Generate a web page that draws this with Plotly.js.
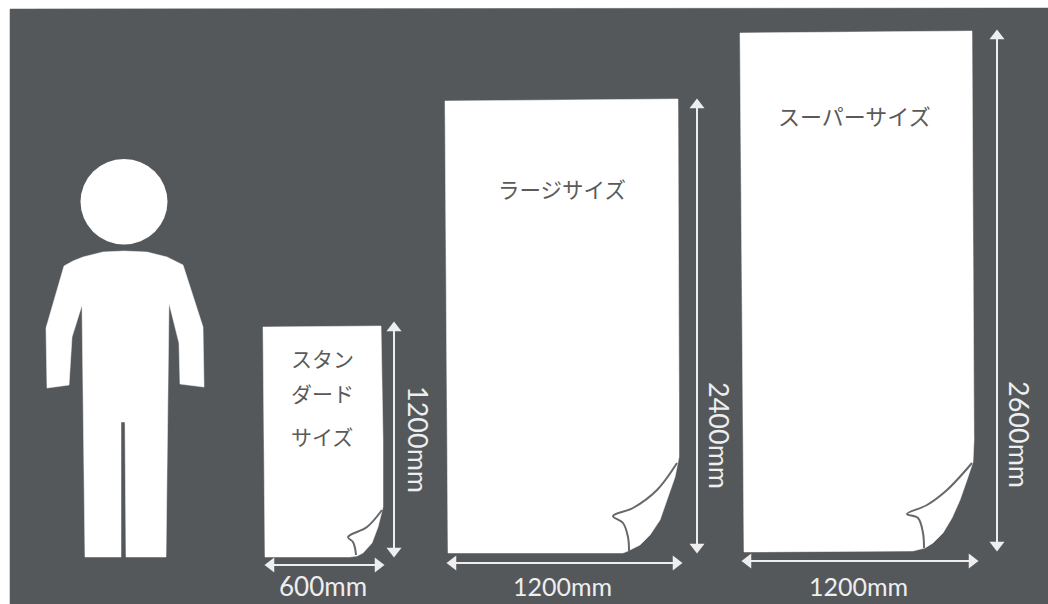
<!DOCTYPE html>
<html><head><meta charset="utf-8">
<script src="https://cdn.plot.ly/plotly-3.0.1.min.js"></script>
<style>html,body{margin:0;padding:0;background:#fff}</style></head>
<body><div id="chart" style="width:1048px;height:604px"></div>
<script>
const panelX=[10,1048,1048,10,10];
const panelY=[9,8,604,604,9];
const bodyX=[64,73,83,103,124,147,167,183,203,204,180,179,169,166,126,125,121,121,85,82,72,69,47,46,64];
const bodyY=[266,261,257,252,251,252,257,265,327,387,384,343,303,557,557,422,422,557,557,305,337,385,388,328,266];
const standardX=[263,381,383,383,378,372,363,357,350,265,263];
const standardY=[327,326,440,507,527,543,553,556,557,557,327];
const largeX=[445,678,679,679,675,668,660,650,640,628,623,448,445];
const largeY=[101,99,400,457,477,498,520,535,545,551,553,553,101];
const superX=[740,972,974,973,967,960,952,943,933,925,913,744,740];
const superY=[33,31,440,462,480,500,518,533,543,548,551,552,33];
const fold1X=[382,367,348,353,355,356];
const fold1Y=[510,527,537,542,548,555];
const fold2X=[677,657,633,613,623,628,629];
const fold2Y=[463,490,508,516,523,537,551];
const fold3X=[972,947,927,907,918,923,924];
const fold3Y=[463,490,505,514,518,533,548];
const vArrowX=[394,697,997];
const vArrowTop=[321,98,29];
const vArrowBottom=[558,554,552];
const hArrowY=[565,563,561];
const hArrowLeft=[264,446,741];
const hArrowRight=[385,683,979];
const labels=[
 {t:"スタン",x:322,y:358},{t:"ダード",x:322,y:393},{t:"サイズ",x:322,y:436},
 {t:"ラージサイズ",x:562,y:188},{t:"スーパーサイズ",x:854,y:115}];
const dimsH=[{t:"600mm",x:323,y:586},{t:"1200mm",x:562,y:586},{t:"1200mm",x:858,y:586}];
const dimsV=[{t:"1200mm",x:419,y:439},{t:"2400mm",x:720,y:435},{t:"2600mm",x:1020,y:434}];

const white='#ffffff', gray='#55585b', fold='#66686a', ink='#eeeeee';
const poly=(x,y,c)=>({x,y,type:'scatter',mode:'lines',fill:'toself',fillcolor:c,line:{color:c,width:0.5},hoverinfo:'skip'});
const curve=(x,y)=>({x,y,type:'scatter',mode:'lines',line:{color:fold,width:2,shape:'spline'},hoverinfo:'skip'});
const data=[
 poly(panelX,panelY,gray),poly(bodyX,bodyY,white),
 poly(standardX,standardY,white),poly(largeX,largeY,white),poly(superX,superY,white),
 curve(fold1X,fold1Y),curve(fold2X,fold2Y),curve(fold3X,fold3Y)];
vArrowX.forEach((x,i)=>{
 data.push({x:[x,x],y:[vArrowTop[i]+6,vArrowBottom[i]-6],type:'scatter',mode:'lines',line:{color:ink,width:2},hoverinfo:'skip'});
 data.push({x:[x],y:[vArrowTop[i]+7],type:'scatter',mode:'markers',marker:{symbol:'triangle-up',size:13,color:ink},hoverinfo:'skip'});
 data.push({x:[x],y:[vArrowBottom[i]-7],type:'scatter',mode:'markers',marker:{symbol:'triangle-down',size:13,color:ink},hoverinfo:'skip'});
});
hArrowY.forEach((y,i)=>{
 data.push({x:[hArrowLeft[i]+6,hArrowRight[i]-6],y:[y,y],type:'scatter',mode:'lines',line:{color:ink,width:2},hoverinfo:'skip'});
 data.push({x:[hArrowLeft[i]+7],y:[y],type:'scatter',mode:'markers',marker:{symbol:'triangle-left',size:13,color:ink},hoverinfo:'skip'});
 data.push({x:[hArrowRight[i]-7],y:[y],type:'scatter',mode:'markers',marker:{symbol:'triangle-right',size:13,color:ink},hoverinfo:'skip'});
});
const latin='Lato, "Open Sans", sans-serif';
const ann=(o,font,angle)=>({x:o.x,y:o.y,xref:'x',yref:'y',text:o.t,showarrow:false,textangle:angle,font,xanchor:'center',yanchor:'middle'});
const jp=s=>({family:'"Noto Sans CJK JP"',size:s,color:'#5a5a5a'});
const annotations=[
 ...labels.slice(0,3).map(o=>ann(o,jp(21),0)),
 ann(labels[3],jp(21.5),0),ann(labels[4],jp(22),0),
 ...dimsH.map(o=>ann(o,{family:latin,size:o.t==="600mm"?26:25,color:ink},0)),
 ...dimsV.map(o=>ann(o,{family:latin,size:27,color:ink},90))];
const layout={width:1048,height:604,margin:{l:0,r:0,t:0,b:0},showlegend:false,
 paper_bgcolor:'#ffffff',plot_bgcolor:'#ffffff',hovermode:false,
 xaxis:{range:[0,1048],visible:false,fixedrange:true},
 yaxis:{range:[604,0],visible:false,fixedrange:true},
 shapes:[{type:'circle',xref:'x',yref:'y',x0:80.5,x1:167.5,y0:159,y1:244.5,fillcolor:white,line:{width:0},layer:'above'}],
 annotations};
Plotly.newPlot('chart',data,layout,{staticPlot:true,displayModeBar:false});
</script></body></html>
